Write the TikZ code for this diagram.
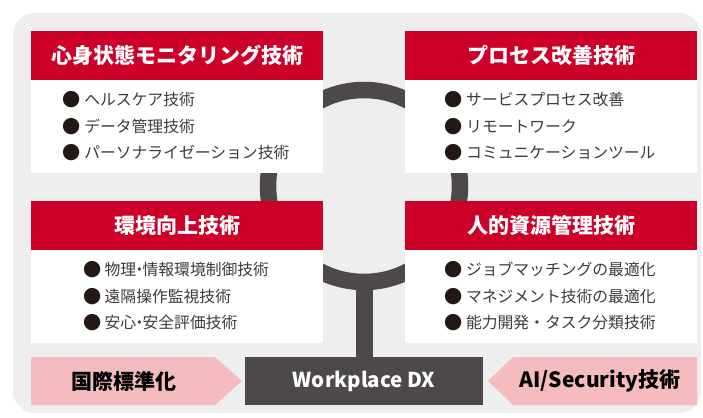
\documentclass[tikz,border=0pt]{standalone}
\usepackage{fontspec}
\setmainfont{Noto Sans CJK JP}
\usetikzlibrary{shapes.geometric}
\definecolor{bggray}{HTML}{EEEEEE}
\definecolor{hred}{HTML}{CC0029}
\definecolor{dgray}{HTML}{4C4948}
\definecolor{pinkc}{HTML}{F4BCBF}
\definecolor{btxt}{HTML}{3E3A39}
\definecolor{bdot}{HTML}{231815}
\newcommand{\bul}{\kern-2pt\raisebox{-1pt}{\scalebox{1.15}{\color{bdot}●}}\kern3.5pt}
\newcommand{\nkg}{\kern-0.3em・\kern-0.3em}
\tikzset{
  head/.style={fill=hred, text=white, font=\bfseries\fontsize{21}{21}\selectfont,
    minimum width=292pt, minimum height=49pt, inner sep=0pt, outer sep=0pt},
  body/.style={fill=white, text=btxt, font=\fontsize{15.8}{26.5}\selectfont, align=left,
    minimum width=292pt, minimum height=93pt, inner sep=0pt, outer sep=0pt},
  ringc/.style={circle, draw=dgray, line width=16.5pt, minimum size=192pt, inner sep=0pt, outer sep=0pt},
  stem/.style={draw=dgray, line width=17pt},
  dxbox/.style={fill=dgray, text=white, font=\bfseries\fontsize{20.5}{20.5}\selectfont,
    minimum width=238pt, minimum height=48pt, inner sep=0pt, outer sep=0pt},
  pinklbl/.style={text=black, font=\bfseries\fontsize{21}{21}\selectfont, inner sep=0pt},
}
\begin{document}
\begin{tikzpicture}[x=1pt,y=-1pt]
\useasboundingbox (0,0) rectangle (703,417);
\fill[bggray, rounded corners=22pt] (13,13) rectangle (701,413);
% ring and stem
\node[ringc] (ring) at (364,186) {};
\node[dxbox] (dx) at (364,381) {Workplace DX};
\draw[stem] (ring.south) -- (dx.north);
% top-left
\node[head] (h1) at (177,55.5) {心身状態モニタリング技術};
\node[body, anchor=north] (b1) at (h1.south) {\bul ヘルスケア技術\\ \bul データ管理技術\\ \bul パーソナライゼーション技術};
% top-right
\node[head] (h2) at (551,55.5) {プロセス改善技術};
\node[body, anchor=north] (b2) at (h2.south) {\bul サービスプロセス改善\\ \bul リモートワーク\\ \bul コミュニケーションツール};
% bottom-left
\node[head] (h3) at (177,225.5) {環境向上技術};
\node[body, anchor=north] (b3) at (h3.south) {\bul 物理\nkg 情報環境制御技術\\ \bul 遠隔操作監視技術\\ \bul 安心\nkg 安全評価技術};
% bottom-right
\node[head] (h4) at (551,225.5) {人的資源管理技術};
\node[body, anchor=north] (b4) at (h4.south) {\bul ジョブマッチングの最適化\\ \bul マネジメント技術の最適化\\ \bul 能力開発・タスク分類技術};
% pink arrows
\fill[pinkc] (31,357) -- (215,357) -- (242,381) -- (215,405) -- (31,405) -- cycle;
\node[pinklbl] (std) at (124,381) {国際標準化};
\fill[pinkc] (697,357) -- (513,357) -- (488,381) -- (513,405) -- (697,405) -- cycle;
\node[pinklbl] (ai) at (600,381) {AI/Security技術};
\end{tikzpicture}
\end{document}
